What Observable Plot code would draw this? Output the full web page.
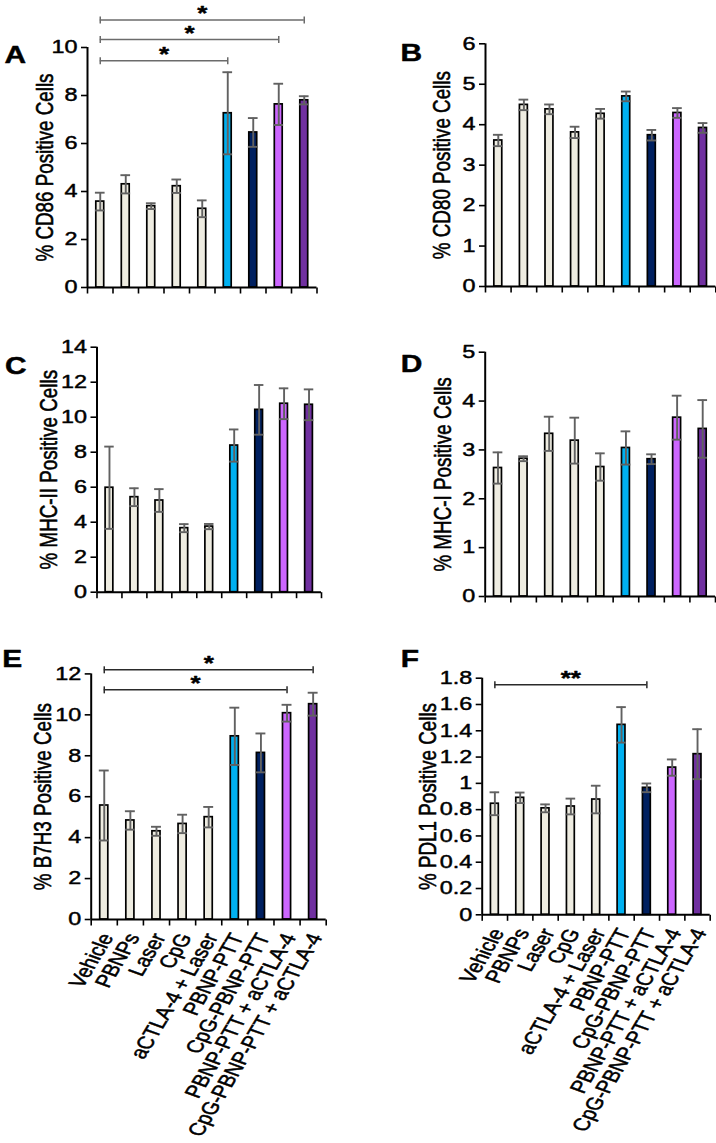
<!DOCTYPE html>
<html><head><meta charset="utf-8">
<script src="https://cdn.jsdelivr.net/npm/d3@7"></script>
<script src="https://cdn.jsdelivr.net/npm/@observablehq/plot@0.6"></script>
<style>
body{margin:0;background:#fff;}
#fig{position:relative;width:716px;height:1143px;overflow:hidden;font-family:"Liberation Sans",Arial,sans-serif;}
#fig svg{position:absolute;overflow:visible;background:transparent;}
</style></head><body><div id="fig"></div>
<script>
// ---------- data ----------
const groups = ["Vehicle","PBNPs","Laser","CpG","aCTLA-4 + Laser","PBNP-PTT","CpG-PBNP-PTT","PBNP-PTT + aCTLA-4","CpG-PBNP-PTT + aCTLA-4"];
const palette = ["#EEECE1","#EEECE1","#EEECE1","#EEECE1","#EEECE1","#00B0F0","#002060","#CC66FF","#7030A0"];

const cd86Mean = [3.58, 4.30, 3.39, 4.22, 3.28, 7.26, 6.46, 7.63, 7.80];
const cd86Err  = [0.37, 0.38, 0.12, 0.28, 0.35, 1.71, 0.60, 0.86, 0.17];
const cd80Mean = [3.61, 4.49, 4.38, 3.81, 4.27, 4.70, 3.74, 4.29, 3.92];
const cd80Err  = [0.14, 0.13, 0.12, 0.14, 0.12, 0.12, 0.13, 0.12, 0.12];
const mhc2Mean = [5.97, 5.43, 5.24, 3.66, 3.75, 8.38, 10.42, 10.77, 10.71];
const mhc2Err  = [2.35, 0.51, 0.65, 0.23, 0.15, 0.92, 1.42, 0.88, 0.88];
const mhc1Mean = [2.63, 2.82, 3.33, 3.19, 2.65, 3.04, 2.81, 3.66, 3.43];
const mhc1Err  = [0.32, 0.05, 0.35, 0.47, 0.28, 0.34, 0.10, 0.45, 0.59];
const b7h3Mean = [5.57, 4.84, 4.31, 4.67, 5.00, 8.95, 8.14, 10.08, 10.52];
const b7h3Err  = [1.71, 0.45, 0.22, 0.45, 0.50, 1.40, 0.95, 0.41, 0.56];
const pdl1Mean = [0.845, 0.89, 0.81, 0.824, 0.877, 1.445, 0.966, 1.12, 1.222];
const pdl1Err  = [0.087, 0.04, 0.03, 0.06, 0.105, 0.135, 0.033, 0.062, 0.19];

const ticksA = [0, 2, 4, 6, 8, 10];
const ticksB = [0, 1, 2, 3, 4, 5, 6];
const ticksC = [0, 2, 4, 6, 8, 10, 12, 14];
const ticksD = [0, 1, 2, 3, 4, 5];
const ticksE = [0, 2, 4, 6, 8, 10, 12];
const ticksF = [0, 0.2, 0.4, 0.6, 0.8, 1, 1.2, 1.4, 1.6, 1.8];

const bracketsA = [
  {from: "Vehicle", to: "PBNP-PTT", level: 9.45, label: "*"},
  {from: "Vehicle", to: "PBNP-PTT + aCTLA-4", level: 10.33, label: "*"},
  {from: "Vehicle", to: "CpG-PBNP-PTT + aCTLA-4", level: 11.15, label: "*"}
];
const bracketsE = [
  {from: "Vehicle", to: "PBNP-PTT + aCTLA-4", level: 11.22, label: "*"},
  {from: "Vehicle", to: "CpG-PBNP-PTT + aCTLA-4", level: 12.2, label: "*"}
];
const bracketsF = [
  {from: "Vehicle", to: "CpG-PBNP-PTT", level: 1.75, label: "**"}
];

// ---------- layout ----------
const SX = 1.3; // horizontal text stretch of the original figure
const FONT = "'Liberation Sans', Arial, sans-serif";
const panels = [
  {letter: "A", label: "% CD86 Positive Cells", mean: cd86Mean, err: cd86Err, ticks: ticksA, max: 10, brackets: bracketsA, bColor: "#6b6b6b",
   top: 0, left: 0, height: 330, mL: 87, mR: 41.5, mT: 47, mB: 43, lx: -83, ly: 8.5, yl: -42},
  {letter: "B", label: "% CD80 Positive Cells", mean: cd80Mean, err: cd80Err, ticks: ticksB, max: 6, brackets: [],
   top: 0, left: 358, height: 330, mL: 127, mR: 0.7, mT: 43.3, mB: 44, lx: -85, ly: 10.2, yl: -43},
  {letter: "C", label: "% MHC-II Positive Cells", mean: mhc2Mean, err: mhc2Err, ticks: ticksC, max: 14, brackets: [],
   top: 330, left: 0, height: 310, mL: 96.5, mR: 37, mT: 16.7, mB: 48.3, lx: -92, ly: 19.8, yl: -48},
  {letter: "D", label: "% MHC-I Positive Cells", mean: mhc1Mean, err: mhc1Err, ticks: ticksD, max: 5, brackets: [],
   top: 330, left: 358, height: 310, mL: 126.7, mR: 1, mT: 21.7, mB: 44, lx: -84.5, ly: 12.3, yl: -41.7},
  {letter: "E", label: "% B7H3 Positive Cells", mean: b7h3Mean, err: b7h3Err, ticks: ticksE, max: 12, brackets: bracketsE, bColor: "#2a2a2a", xlabels: true,
   top: 640, left: 0, height: 503, mL: 90.7, mR: 32.3, mT: 33.4, mB: 224, lx: -89, ly: -14.4, yl: -48.2},
  {letter: "F", label: "% PDL1 Positive Cells", mean: pdl1Mean, err: pdl1Err, ticks: ticksF, max: 1.8, brackets: bracketsF, bColor: "#2a2a2a", xlabels: true,
   top: 640, left: 358, height: 503, mL: 123.7, mR: 6.3, mT: 37.7, mB: 228.7, lx: -81.5, ly: -18.7, yl: -53.7}
];

const BW = 0.155, CW = 0.19;
const EB = "#616161";
const vTick = {draw(ctx, size) { const r = Math.sqrt(size / Math.PI); ctx.moveTo(0, 0); ctx.lineTo(0, r); }};
const vEnd = {draw(ctx, size) { const r = Math.sqrt(size / Math.PI); ctx.moveTo(0, -r); ctx.lineTo(0, r); }};
const ctr = g => groups.indexOf(g) + 0.5;

function stretchText(svg) {
  svg.querySelectorAll("text").forEach(t => {
    const tr = t.getAttribute("transform");
    if (tr && /^translate\([^)]*\)/.test(tr)) {
      t.setAttribute("transform", tr.replace(/^(translate\([^)]*\))/, `$1 scale(${SX},1)`));
    } else if (!tr) {
      const x = +(t.getAttribute("x") || 0), y = +(t.getAttribute("y") || 0);
      if (isFinite(x) && isFinite(y)) {
        t.removeAttribute("x");
        t.removeAttribute("y");
        t.setAttribute("transform", `translate(${x},${y}) scale(${SX},1)`);
      }
    }
    // heavier rendering, like the original raster
    t.setAttribute("stroke", "black");
    t.setAttribute("stroke-width", t.getAttribute("font-weight") === "bold" ? "0.3" : "0.45");
    t.setAttribute("stroke-linejoin", "round");
    t.setAttribute("paint-order", "stroke");
  });
}

const fig = document.getElementById("fig");
for (const p of panels) {
  const rows = groups.map((g, i) => ({group: g, i, mean: p.mean[i], err: p.err[i]}));
  const ends = p.brackets.flatMap(b => [{x: ctr(b.from), level: b.level}, {x: ctr(b.to), level: b.level}]);
  const marks = [
    Plot.rectY(rows, {x1: d => d.i + 0.5 - BW, x2: d => d.i + 0.5 + BW, y1: 0, y2: "mean", fill: "group", stroke: "black", strokeWidth: 1.7}),
    Plot.ruleX(rows, {x: d => d.i + 0.5, y1: d => d.mean - d.err, y2: d => d.mean + d.err, stroke: EB, strokeWidth: 1.9}),
    Plot.ruleY(rows, {y: d => d.mean + d.err, x1: d => d.i + 0.5 - CW, x2: d => d.i + 0.5 + CW, stroke: EB, strokeWidth: 1.9}),
    Plot.ruleY(rows, {y: d => d.mean - d.err, x1: d => d.i + 0.5 - CW, x2: d => d.i + 0.5 + CW, stroke: EB, strokeWidth: 1.9}),
    Plot.ruleX([0], {stroke: "black", strokeWidth: 2}),
    Plot.ruleY([0], {stroke: "black", strokeWidth: 2}),
    Plot.dot(d3.range(groups.length + 1), {x: d => d, y: 0, r: 6, symbol: vTick, stroke: "black", strokeWidth: 1.6, fill: "none"}),
    Plot.axisY({ticks: p.ticks, tickSize: 6, tickPadding: 4, tickFormat: d => +d.toFixed(1), fontSize: 18, strokeWidth: 1.6, label: null}),
    Plot.text([p.letter], {frameAnchor: "top-left", dx: p.lx, dy: p.ly, textAnchor: "start", lineAnchor: "middle", fontSize: 23, fontWeight: "bold"}),
    Plot.text([p.label], {frameAnchor: "left", dx: p.yl, rotate: -90, textAnchor: "middle", lineAnchor: "middle", fontSize: 18.8})
  ];
  if (p.brackets.length) {
    marks.push(
      Plot.ruleY(p.brackets, {y: "level", x1: d => ctr(d.from), x2: d => ctr(d.to), stroke: p.bColor, strokeWidth: 1.5}),
      Plot.dot(ends, {x: "x", y: "level", r: 3.5, symbol: vEnd, stroke: p.bColor, strokeWidth: 1.5, fill: "none"}),
      Plot.text(p.brackets, {x: d => (ctr(d.from) + ctr(d.to)) / 2, y: "level", text: "label", lineAnchor: "bottom", dy: 0, fontSize: 20, fontWeight: "bold"})
    );
  }
  if (p.xlabels) {
    marks.push(Plot.text(rows, {x: d => d.i + 0.5, y: 0, text: "group", rotate: -65, textAnchor: "end", lineAnchor: "middle", dx: 3, dy: 15, fontSize: 17.8}));
  }
  const svg = Plot.plot({
    width: 358, height: p.height,
    marginLeft: p.mL, marginRight: p.mR, marginTop: p.mT, marginBottom: p.mB,
    style: {fontFamily: FONT, color: "black", background: "transparent", overflow: "visible"},
    x: {domain: [0, groups.length], axis: null},
    y: {domain: [0, p.max], axis: null},
    color: {domain: groups, range: palette},
    marks
  });
  svg.style.left = p.left + "px";
  svg.style.top = p.top + "px";
  stretchText(svg);
  fig.appendChild(svg);
}
</script></body></html>
